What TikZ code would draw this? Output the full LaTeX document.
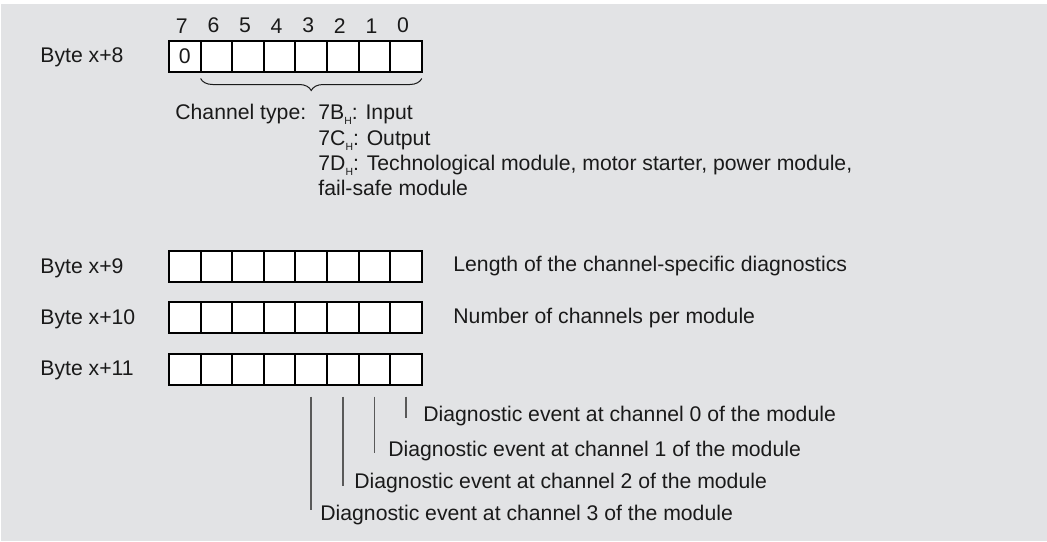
\documentclass[tikz,border=0pt]{standalone}
\usepackage{fontspec}
\setmainfont{Liberation Sans}
\usepackage{xcolor}
\usetikzlibrary{positioning,calc,decorations.pathreplacing}
\definecolor{panel}{HTML}{E2E3E5}
\definecolor{ink}{HTML}{1A1A1A}
\newcommand{\hexsub}{\raisebox{-2.6pt}{\fontsize{5.2pt}{6pt}\selectfont H}}

\begin{document}
\begin{tikzpicture}[x=0.5pt,y=-0.5pt,
   every node/.style={font=\fontsize{10.6pt}{12.6pt}\selectfont,text=ink},
   bitcell/.style={draw=black,fill=white,line width=1pt,minimum width=15.8pt,minimum height=15.5pt,inner sep=0pt,outer sep=0pt},
   textline/.style={anchor=base west,inner sep=0pt},
   typebrace/.style={decorate,decoration={brace,mirror,amplitude=6pt},draw=ink,line width=0.5pt},
   tick/.style={draw=black!65,line width=0.8pt}]
   \useasboundingbox (0,0) rectangle (1047,541);
   \fill[panel] (1,4) rectangle (1047,541);
   % the four bytes
   \foreach \r/\y in {8/56,9/266.5,10/317.5,11/369}{
      \node[textline] (lab\r) at (40,\y+6.5) {Byte x+\r};
      \foreach \b in {7,...,0}
         \node[bitcell] (r\r-\b) at ({169+(7.5-\b)*31.6},\y) {};
   }
   \node (zero) at (r8-7) {0};
   \foreach \b in {7,...,0}
      \node[above=3.5pt of r8-\b,inner sep=0pt,xshift=-1.5pt] (bit\b) {\b};
   % channel type
   \draw[typebrace] ([yshift=-3.5pt]r8-6.south west) -- ([yshift=-3.5pt]r8-0.south east);
   \node[textline] (ctype) at (175,119) {Channel type:};
   \node[textline] (tin) at (318,119) {7B\hexsub: Input};
   \node[textline] (tout) at (318,145) {7C\hexsub: Output};
   \node[textline] (ttech) at (318,170) {7D\hexsub: Technological module, motor starter, power module,};
   \node[textline] (tfail) at (318,195) {fail-safe module};
   % bytes 9 and 10
   \node[textline] (len) at (453,271) {Length of the channel-specific diagnostics};
   \node[textline] (num) at (453,323) {Number of channels per module};
   % byte 11
   \node[textline] (d0) at (423,421) {Diagnostic event at channel 0 of the module};
   \node[textline] (d1) at (388,456) {Diagnostic event at channel 1 of the module};
   \node[textline] (d2) at (354,488) {Diagnostic event at channel 2 of the module};
   \node[textline] (d3) at (320,520) {Diagnostic event at channel 3 of the module};
   \foreach \b/\e in {0/-3,1/-3,2/-2,3/-10}
      \draw[tick] ([yshift=-6pt]r11-\b.south) -- ($(r11-\b.south |- d\b.base)+(0,\e)$);
\end{tikzpicture}
\end{document}
